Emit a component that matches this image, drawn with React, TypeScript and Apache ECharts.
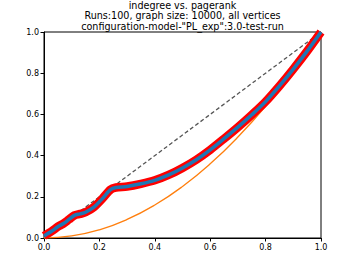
import React, { useEffect, useRef } from "react";
import * as echarts from "echarts";

const titleLines = [
  "indegree vs. pagerank",
  "Runs:100, graph size: 10000, all vertices",
  'configuration-model-"PL_exp":3.0-test-run',
];
const tickValues = [0, 0.2, 0.4, 0.6, 0.8, 1.0];

const diagX = [0, 1];
const diagY = [0, 1];

const curveX = [0, 0.03, 0.05, 0.07, 0.09, 0.11, 0.13, 0.15, 0.18, 0.21, 0.24, 0.26, 0.3, 0.35, 0.4, 0.45, 0.5, 0.55, 0.6, 0.65, 0.7, 0.75, 0.8, 0.85, 0.9, 0.95, 1.0];
const curveY = [0.01, 0.035, 0.055, 0.07, 0.09, 0.11, 0.117, 0.125, 0.15, 0.19, 0.235, 0.245, 0.25, 0.263, 0.28, 0.306, 0.34, 0.38, 0.428, 0.482, 0.538, 0.598, 0.662, 0.738, 0.82, 0.907, 1.0];

const orangeX = [0, 0.1, 0.2, 0.3, 0.4, 0.5, 0.6, 0.7, 0.8, 0.9, 1.0];
const orangeY = [0, 0.01, 0.04, 0.09, 0.16, 0.25, 0.36, 0.49, 0.64, 0.81, 1.0];

const pairs = (xs: number[], ys: number[]) => xs.map((x, i) => [x, ys[i]]);

export default function App() {
  const ref = useRef<HTMLDivElement>(null);
  useEffect(() => {
    if (!ref.current) return;
    const chart = echarts.init(ref.current, null, { renderer: "svg" });
    const axisCommon = {
      type: "value" as const,
      min: 0,
      max: 1,
      interval: 0.2,
      splitLine: { show: false },
      axisLine: { show: true, onZero: false, lineStyle: { color: "#000", width: 1 } },
      axisTick: { show: true, length: 3.5, lineStyle: { color: "#000" } },
      axisLabel: {
        color: "#000",
        fontSize: 8,
        fontFamily: "DejaVu Sans",
        margin: 5,
        formatter: (v: number) => (tickValues.includes(Math.round(v * 10) / 10) ? v.toFixed(1) : ""),
      },
    };
    chart.setOption({
      animation: false,
      backgroundColor: "#fff",
      title: {
        text: titleLines.join("\n"),
        left: 182.5,
        top: 0,
        padding: 0,
        textAlign: "center",
        textStyle: {
          fontSize: 9.6,
          lineHeight: 10.6,
          fontWeight: "normal",
          color: "#000",
          fontFamily: "DejaVu Sans",
        },
      },
      grid: {
        left: 44,
        top: 32,
        width: 277,
        height: 206,
        show: true,
        borderColor: "#000",
        borderWidth: 1,
        containLabel: false,
      },
      xAxis: { ...axisCommon },
      yAxis: { ...axisCommon },
      series: [
        {
          type: "line",
          data: pairs(diagX, diagY),
          showSymbol: false,
          lineStyle: { color: "#555", width: 1.3, type: [4, 2.5] },
          z: 1,
        },
        {
          type: "line",
          data: pairs(orangeX, orangeY),
          smooth: true,
          showSymbol: false,
          lineStyle: { color: "#ff7f0e", width: 1.3 },
          z: 2,
        },
        {
          type: "line",
          data: pairs(curveX, curveY),
          smooth: 0.3,
          showSymbol: false,
          lineStyle: { color: "#ff0000", width: 8.5 },
          z: 3,
        },
        {
          type: "line",
          data: pairs(curveX, curveY),
          smooth: 0.3,
          showSymbol: false,
          lineStyle: { color: "#1f77b4", width: 3.5 },
          z: 4,
        },
      ],
    });
    return () => chart.dispose();
  }, []);
  return (
    <div
      ref={ref}
      style={{ position: "fixed", left: 0, top: 0, width: 357, height: 268, background: "#fff" }}
    />
  );
}
